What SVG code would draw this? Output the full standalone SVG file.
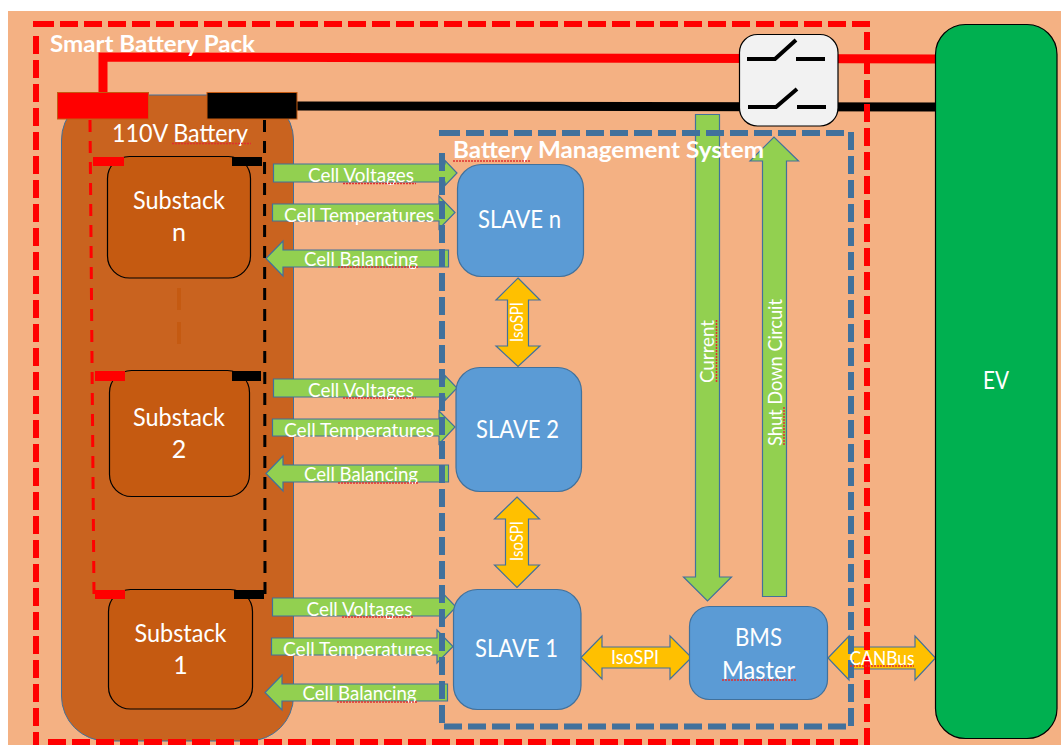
<svg xmlns="http://www.w3.org/2000/svg" width="1061" height="745" viewBox="0 0 1061 745">
<style>
text{font-family:Lato,"Liberation Sans",sans-serif;fill:#fff;font-size:25px}
.t{font-size:19.5px}.v{font-size:17.5px}.h{font-size:23px;font-weight:700}
.sub{fill:#C55A11;stroke:#000;stroke-width:1.2}
.bl{fill:#5B9BD5;stroke:#41719C;stroke-width:1.2}
.gr{fill:#92D050;stroke:#41719C;stroke-width:1.2}
.ye{fill:#FFC000;stroke:#41719C;stroke-width:1.2}
.w{fill:none;stroke-width:9}
.sw{fill:none;stroke:#000;stroke-width:4}
.sq{fill:none;stroke:#E03030;stroke-width:1.5;stroke-dasharray:2 1}
.pb{fill:none;stroke:#F00;stroke-width:6;stroke-dasharray:18 6}
.bb{fill:none;stroke:#41719C;stroke-width:6;stroke-dasharray:18 6}
</style>
<rect x="8" y="11" width="1053" height="734" fill="#F4B183"/>
<g id="battery">
<rect x="61.500" y="95" width="232" height="646" rx="45" fill="#C9631F" stroke="#41719C" stroke-width="1"/>
<text x="112" y="142" textLength="136" lengthAdjust="spacingAndGlyphs">110V Battery</text>
</g>
<g id="connectors">
<path class="w" stroke="#F00" d="M103 93V57L935 59"/>
<path class="w" stroke="#000" d="M297 106L935 107"/>
<path fill="none" stroke="#F00" stroke-width="3" stroke-dasharray="12 9" d="M90 120L94 596"/>
<path fill="none" stroke="#000" stroke-width="3" stroke-dasharray="12 9" d="M264.500 120L265 594H262"/>
<path fill="none" stroke="#C55A11" stroke-width="4" stroke-dasharray="22 12" d="M179 288V354"/>
</g>
<g id="terminal-pos"><rect x="57.500" y="92.500" width="91" height="26.500" fill="#F00" stroke="#C55A11"/></g>
<g id="terminal-neg"><rect x="207" y="92.500" width="90" height="26.500" fill="#000" stroke="#C55A11"/></g>
<g id="substack-n">
<rect class="sub" x="107.500" y="156.500" width="143" height="121.500" rx="22"/>
<rect x="93" y="157" width="31" height="9" fill="#F00"/><rect x="232" y="157" width="30" height="9" fill="#000"/>
<text x="133" y="209" textLength="92" lengthAdjust="spacingAndGlyphs">Substack</text>
<text x="179" y="241" text-anchor="middle">n</text>
</g>
<g id="substack-2">
<rect class="sub" x="109.500" y="370.500" width="140" height="126" rx="22"/>
<rect x="95" y="371" width="30" height="10" fill="#F00"/><rect x="232" y="371" width="29" height="10" fill="#000"/>
<text x="133" y="425.500" textLength="92" lengthAdjust="spacingAndGlyphs">Substack</text>
<text x="179" y="457.500" text-anchor="middle">2</text>
</g>
<g id="substack-1">
<rect class="sub" x="108.500" y="589.500" width="144" height="119.500" rx="22"/>
<rect x="95" y="590" width="30" height="9" fill="#F00"/><rect x="234" y="590" width="30" height="9" fill="#000"/>
<text x="134.500" y="642" textLength="92" lengthAdjust="spacingAndGlyphs">Substack</text>
<text x="180.500" y="674" text-anchor="middle">1</text>
</g>
<g id="signals">
<path class="gr" d="M273.500 164H445V160.500L457 173L445 185.500V182H273.500Z"/>
<path class="gr" d="M272.500 204H439V196L455 212.500L439 229V221H272.500Z"/>
<path class="gr" d="M448.500 250V267H283V276L266 258.500L283 241V250Z"/>
<path class="gr" d="M273.500 379H445V375.500L457 388L445 400.500V397H273.500Z"/>
<path class="gr" d="M272.500 419H439V411L455 427L439 444V436H272.500Z"/>
<path class="gr" d="M448.500 465V482H283V491L266 473.500L283 456V465Z"/>
<path class="gr" d="M272.500 598H444V594.500L456 607L444 619.500V616H272.500Z"/>
<path class="gr" d="M271.500 638H437V630L453 646.500L437 663V655H271.500Z"/>
<path class="gr" d="M447.500 684V701H282V710L265 692.500L282 675V684Z"/>
<path class="gr" d="M695.500 114.500H719.500V577H731.500L707.500 601L683.500 577H695.500Z"/>
<path class="gr" d="M762.500 596.500V161H750L774 137L798.500 161H786.500V596.500Z"/>
<path class="ye" d="M518 278L540 300H528.500V346H540L518 366.500L496 346H507.500V300H496Z"/>
<path class="ye" d="M517 497L539.500 519H528.500V565H539.500L517 587.500L494.500 565H505.500V519H494.500Z"/>
<path class="ye" d="M581 657.500L602 636V647H670V636L691.500 657.500L670 679V668H602V679Z"/>
<path class="ye" d="M828 658L849 636V647H915V636L935.500 658L915 680V669H849V680Z"/>
</g>
<g id="pack-border">
<path class="pb" d="M36 36V745"/><path class="pb" d="M36 24H870"/><path d="M33 24H36" stroke="#F00" stroke-width="6"/><path class="pb" d="M48 742H870"/><path class="pb" d="M867 32V745"/>
</g>
<g id="bms-border">
<path class="bb" d="M442 153V724"/><path class="bb" d="M442 133H845"/><path d="M439 133H442" stroke="#41719C" stroke-width="6"/><path class="bb" d="M444 726.500H847"/><path class="bb" d="M851 132V726"/>
</g>
<g id="switch">
<rect x="739.500" y="34.500" width="98.500" height="91.500" rx="18" fill="#F2F2F2" stroke="#000" stroke-width="1.200"/>
<path class="sw" d="M747 59H775L796 40M796 59H825M748 107H776L797 89M797 107H826"/>
</g>
<g id="slave-n"><rect class="bl" x="457.500" y="164.500" width="126" height="112" rx="24"/><text x="478" y="228" textLength="83" lengthAdjust="spacingAndGlyphs">SLAVE n</text></g>
<g id="slave-2"><rect class="bl" x="456" y="367.500" width="125.500" height="124" rx="24"/><text x="476" y="438" textLength="83" lengthAdjust="spacingAndGlyphs">SLAVE 2</text></g>
<g id="slave-1"><rect class="bl" x="453.500" y="589.500" width="127.500" height="120" rx="24"/><text x="475" y="657" textLength="83" lengthAdjust="spacingAndGlyphs">SLAVE 1</text></g>
<g id="bms-master"><rect class="bl" x="689.500" y="606.500" width="138" height="93" rx="20"/><text x="735" y="646" textLength="47" lengthAdjust="spacingAndGlyphs">BMS</text><text x="722" y="679" textLength="73" lengthAdjust="spacingAndGlyphs">Master</text></g>
<g id="ev"><rect x="935.500" y="24.500" width="121.500" height="714" rx="30" fill="#00B050" stroke="#000" stroke-width="1.200"/><text x="983" y="389" textLength="26" lengthAdjust="spacingAndGlyphs">EV</text></g>
<g id="labels">
<text class="h" x="50" y="52" textLength="205" lengthAdjust="spacingAndGlyphs">Smart Battery Pack</text>
<text class="h" x="453" y="157.500" textLength="311" lengthAdjust="spacingAndGlyphs">Battery Management System</text>
<text class="t" x="308" y="181.500" textLength="106" lengthAdjust="spacingAndGlyphs">Cell Voltages</text>
<text class="t" x="284" y="221.500" textLength="150" lengthAdjust="spacingAndGlyphs">Cell Temperatures</text>
<text class="t" x="304" y="265.500" textLength="114" lengthAdjust="spacingAndGlyphs">Cell Balancing</text>
<text class="t" x="308" y="396.500" textLength="106" lengthAdjust="spacingAndGlyphs">Cell Voltages</text>
<text class="t" x="284" y="436.500" textLength="150" lengthAdjust="spacingAndGlyphs">Cell Temperatures</text>
<text class="t" x="304" y="480.500" textLength="114" lengthAdjust="spacingAndGlyphs">Cell Balancing</text>
<text class="t" x="306.500" y="615.500" textLength="106" lengthAdjust="spacingAndGlyphs">Cell Voltages</text>
<text class="t" x="283" y="655.500" textLength="150" lengthAdjust="spacingAndGlyphs">Cell Temperatures</text>
<text class="t" x="302.500" y="699.500" textLength="114" lengthAdjust="spacingAndGlyphs">Cell Balancing</text>
<text class="t" x="611" y="663.500" textLength="48" lengthAdjust="spacingAndGlyphs">IsoSPI</text>
<text class="t" x="849.500" y="664.500" textLength="65" lengthAdjust="spacingAndGlyphs">CANBus</text>
<text class="v" transform="translate(523 342) rotate(-90)" textLength="40" lengthAdjust="spacingAndGlyphs">IsoSPI</text>
<text class="v" transform="translate(522.500 561) rotate(-90)" textLength="40" lengthAdjust="spacingAndGlyphs">IsoSPI</text>
<text class="t" transform="translate(713.500 383) rotate(-90)" textLength="63" lengthAdjust="spacingAndGlyphs">Current</text>
<text class="t" transform="translate(781.500 446) rotate(-90)" textLength="147" lengthAdjust="spacingAndGlyphs">Shut Down Circuit</text>
</g>
<g id="squiggles">
<path class="sq" d="M172 143.500H251M343 183.500H416M343 398H416M342 617H414M338 267H418M338 483H418M337 702H417M453 161H531M722 680H796M850 666H914M784 407V446M716.500 320V383"/>
</g>
</svg>
